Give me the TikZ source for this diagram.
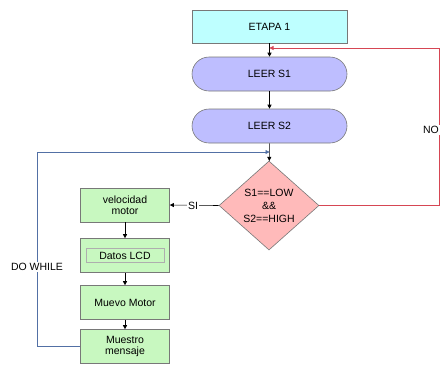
\documentclass[tikz,border=0pt]{standalone}
\usepackage{fontspec}
\setmainfont{Liberation Sans}
\usetikzlibrary{shapes.geometric, arrows.meta}

\definecolor{etapacol}{RGB}{190,255,255}
\definecolor{leercol}{RGB}{190,190,255}
\definecolor{condcol}{RGB}{255,186,186}
\definecolor{pasocol}{RGB}{200,248,192}
\definecolor{nocol}{RGB}{214,70,84}
\definecolor{docol}{RGB}{82,112,165}
\definecolor{bordecol}{RGB}{120,120,120}

\tikzset{
  caja/.style={draw=bordecol, line width=0.6pt, inner sep=0pt, align=center,
    font=\fontsize{10.5}{11.5}\selectfont},
  etapa/.style={caja, fill=etapacol, minimum width=155pt, minimum height=33pt},
  leer/.style={caja, fill=leercol, minimum width=155pt, minimum height=34pt, rounded corners=17pt},
  paso/.style={caja, fill=pasocol, minimum width=89pt, minimum height=34pt},
  cond/.style={caja, diamond, fill=condcol, minimum width=100pt, minimum height=89pt,
    font=\fontsize{10.5}{13}\selectfont},
  flecha/.style={-{Triangle[length=4pt,width=4pt]}, line width=0.6pt},
  etiqueta/.style={fill=white, inner sep=1.5pt, font=\fontsize{10.5}{12}\selectfont}
}

\begin{document}
\begin{tikzpicture}[x=1pt, y=-1pt]
  \useasboundingbox (0,0) rectangle (441,365);

  % Nodes
  \node[etapa] (etapa) at (269.5,26.5) {ETAPA 1};
  \node[leer] (leer1) at (269.5,74) {LEER S1};
  \node[leer] (leer2) at (269.5,126) {LEER S2};
  \node[cond] (cond) at (269,205.5) {S1==LOW\\\&\&\\S2==HIGH};

  \node[paso] (velocidad) at (125,205) {velocidad\\motor};
  \node[paso] (datos) at (125,255.5) {};
  \node[draw=bordecol!60, line width=0.5pt, minimum width=78pt, minimum height=14pt, inner sep=0pt,
    font=\fontsize{10.5}{12}\selectfont] (lcd) at (datos) {Datos LCD};
  \node[paso] (muevo) at (125,302.5) {Muevo Motor};
  \node[paso] (muestro) at (125,346.5) {Muestro\\mensaje};

  \coordinate (noarriba) at (439,48);
  \coordinate (noentra) at (269.5,48);
  \coordinate (doabajo) at (37,346.5);
  \coordinate (doentra) at (269.5,152);

  % Arrows
  \draw[flecha] (etapa) -- (leer1);
  \draw[flecha] (leer1) -- (leer2);
  \draw[flecha] (leer2) -- (cond);
  \draw[flecha] (cond.west) -- (velocidad.east);
  \node[etiqueta] (si) at (193,206) {SI};
  \draw[flecha] (velocidad) -- (datos);
  \draw[flecha] (datos) -- (muevo);
  \draw[flecha] (muevo) -- (muestro);

  % back to LEER S1
  \draw[flecha, nocol] (cond.east) -| (noarriba) -- (noentra);
  \node[etiqueta, inner sep=1pt] (no) at (431,130) {NO};

  % loop of the green steps
  \draw[flecha, docol] (muestro.west) -- (doabajo) |- (doentra);
  \node[etiqueta] (dowhile) at (37,267) {DO WHILE};
\end{tikzpicture}
\end{document}
